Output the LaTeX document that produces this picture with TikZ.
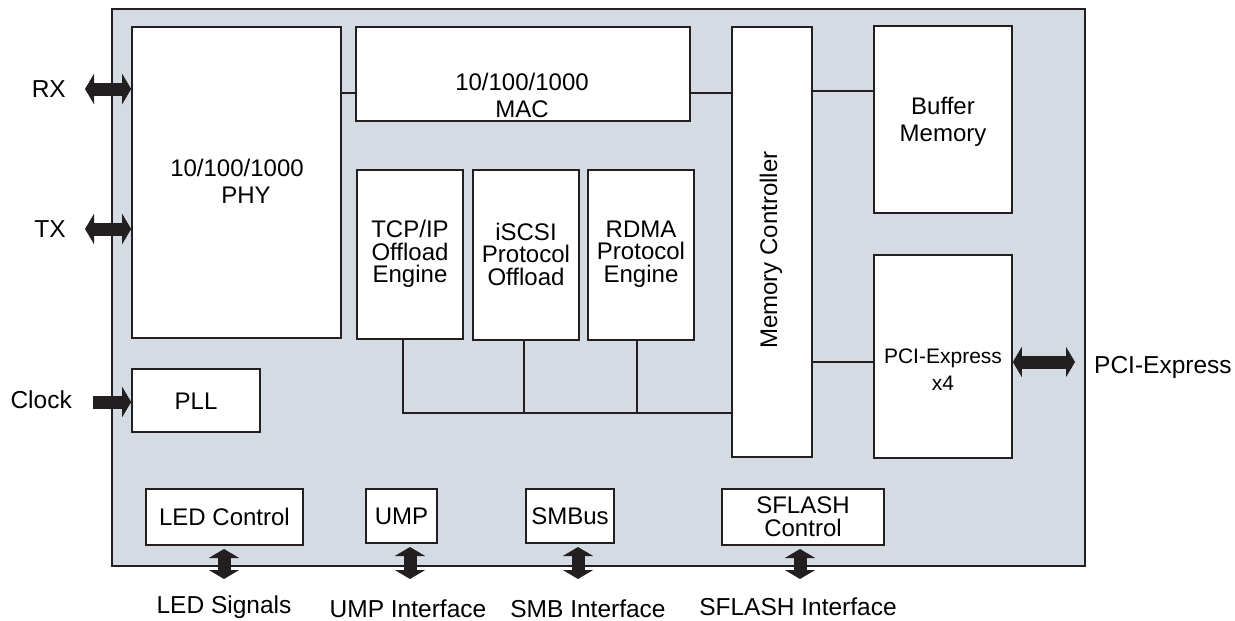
\documentclass[tikz,border=0pt]{standalone}
\usepackage{fontspec}
\setmainfont{Liberation Sans}
\usetikzlibrary{arrows.meta}
\definecolor{chipfill}{RGB}{212,219,227}
\definecolor{ink}{RGB}{35,31,32}
\tikzset{
  blk/.style={draw=ink, line width=1.6pt, fill=white, inner sep=0pt},
  wire/.style={draw=ink, line width=1.4pt},
  lbl/.style={text=black, align=center, inner sep=0pt, font=\fontsize{24}{27}\selectfont},
  ext/.style={text=black, inner sep=0pt, font=\fontsize{24.5}{27}\selectfont},
  dbl/.style={draw=ink, line width=13pt, {Triangle[length=9pt,width=30pt]}-{Triangle[length=9pt,width=30pt]}},
  sgl/.style={draw=ink, line width=13pt, -{Triangle[length=9pt,width=30pt]}},
}
\begin{document}
\begin{tikzpicture}[x=1pt,y=-1pt]
\useasboundingbox (0,0) rectangle (1235,621);
% outer chip
\node[draw=ink, line width=1.6pt, fill=chipfill, minimum width=973pt, minimum height=557pt, inner sep=0pt] (chip) at (598.5,287.5) {};
% blocks
\node[blk, minimum width=209pt, minimum height=311pt] (phy) at (236.5,182.5) {};
\node[blk, minimum width=334pt, minimum height=94pt] (mac) at (523,74) {};
\node[blk, minimum width=106pt, minimum height=169pt] (tcp) at (410,254.5) {};
\node[blk, minimum width=106pt, minimum height=170pt] (iscsi) at (526,255) {};
\node[blk, minimum width=106pt, minimum height=170pt] (rdma) at (641,255) {};
\node[blk, minimum width=80pt, minimum height=430pt] (memc) at (772,242) {};
\node[blk, minimum width=138pt, minimum height=187pt] (buf) at (943,119.5) {};
\node[blk, minimum width=138pt, minimum height=203pt] (pci) at (943,356.5) {};
\node[blk, minimum width=128pt, minimum height=63pt] (pll) at (196,400.5) {};
\node[blk, minimum width=157pt, minimum height=56pt] (led) at (224.5,517) {};
\node[blk, minimum width=71pt, minimum height=54pt] (ump) at (401.5,516) {};
\node[blk, minimum width=88pt, minimum height=54pt] (smb) at (570,516) {};
\node[blk, minimum width=162pt, minimum height=56pt] (sfl) at (803,517) {};
% block texts
\node[lbl] (tphy) at (237,181) {10/100/1000\\\hspace*{18pt}PHY};
\node[lbl] (tmac) at (522,95) {10/100/1000\\MAC};
\node[lbl, font=\fontsize{24}{22.5}\selectfont] (ttcp) at (410,254) {TCP/IP\\Offload\\Engine};
\node[lbl, font=\fontsize{24}{22.5}\selectfont] (tiscsi) at (526,254) {iSCSI\\Protocol\\Offload};
\node[lbl, font=\fontsize{24}{22.5}\selectfont] (trdma) at (641,254) {RDMA\\Protocol\\Engine};
\node[lbl, rotate=90] (tmemc) at (771,250) {Memory Controller};
\node[lbl] (tbuf) at (943,122) {Buffer\\Memory};
\node[lbl, font=\fontsize{21}{27}\selectfont] (tpci) at (943,370) {PCI-Express\\x4};
\node[lbl] (tpll) at (196,401) {PLL};
\node[lbl] (tled) at (224.5,517) {LED Control};
\node[lbl] (tump) at (401.5,516) {UMP};
\node[lbl] (tsmb) at (570,516) {SMBus};
\node[lbl, font=\fontsize{24}{23}\selectfont] (tsfl) at (803,517) {SFLASH\\Control};
% internal wires
\draw[wire] (phy.east |- 0,93) -- (mac.west |- 0,93);
\draw[wire] (mac.east |- 0,93) -- (memc.west |- 0,93);
\draw[wire] (memc.east |- 0,91) -- (buf.west |- 0,91);
\draw[wire] (memc.east |- 0,362) -- (pci.west |- 0,362);
\coordinate (b1) at (403,413);
\coordinate (b2) at (524,413);
\coordinate (b3) at (637,413);
\draw[wire] (b1 |- tcp.south) -- (b1) -- (b1 -| memc.west);
\draw[wire] (b2 |- iscsi.south) -- (b2);
\draw[wire] (b3 |- rdma.south) -- (b3);
% external arrows and labels
\node[ext, anchor=east] (rx) at (66,89) {RX};
\node[ext, anchor=east] (tx) at (66,229) {TX};
\node[ext, anchor=east] (clk) at (72,400) {Clock};
\node[ext, anchor=west] (pcie) at (1094,367) {PCI-Express};
\coordinate (rxe) at (85,89);
\coordinate (txe) at (85,229);
\coordinate (clke) at (93,402);
\coordinate (pcie2) at (1075,362);
\draw[dbl] (rxe) -- (rxe -| phy.west);
\draw[dbl] (txe) -- (txe -| phy.west);
\draw[sgl] (clke) -- (clke -| pll.west);
\draw[dbl] (pcie2 -| pci.east) -- (pcie2);
\node[ext] (ledsig) at (224,607) {LED Signals};
\node[ext] (umpif) at (408,609) {UMP Interface};
\node[ext] (smbif) at (588,609) {SMB Interface};
\node[ext] (sflif) at (798,607) {SFLASH Interface};
\coordinate (a1) at (224,579);
\coordinate (a2) at (410,579);
\coordinate (a3) at (578,579);
\coordinate (a4) at (800,579);
\draw[dbl] (a1 |- 0,549) -- (a1);
\draw[dbl] (a2 |- 0,547) -- (a2);
\draw[dbl] (a3 |- 0,547) -- (a3);
\draw[dbl] (a4 |- 0,549) -- (a4);
\end{tikzpicture}
\end{document}
